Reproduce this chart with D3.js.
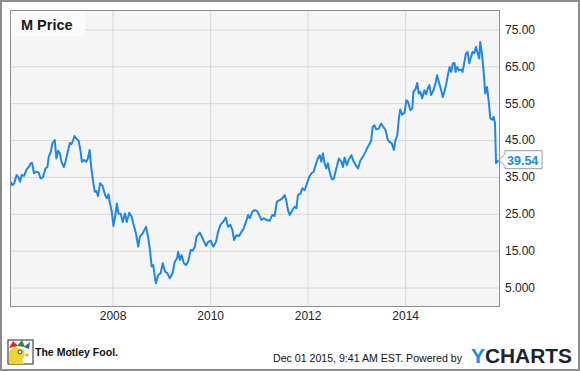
<!DOCTYPE html>
<html>
<head>
<meta charset="utf-8">
<script src="https://cdn.jsdelivr.net/npm/d3@7"></script>
<style>
  body { margin: 0; background: #fff; }
  svg { display: block; font-family: "Liberation Sans", Arial, sans-serif; }
</style>
</head>
<body>
<script>
// M (Macy's) share price
var dates = [
  "2005-12-01","2005-12-10","2005-12-25","2006-01-12","2006-01-24","2006-02-07","2006-02-19","2006-03-09",
  "2006-03-26","2006-04-13","2006-04-28","2006-05-08","2006-05-22","2006-06-09","2006-06-26","2006-07-11",
  "2006-07-28","2006-08-16","2006-08-31","2006-09-10","2006-09-25","2006-10-07","2006-10-25","2006-11-06",
  "2006-11-19","2006-12-02","2006-12-14","2007-01-01","2007-01-13","2007-01-28","2007-02-15","2007-02-27",
  "2007-03-10","2007-03-22","2007-04-04","2007-04-22","2007-05-07","2007-05-16","2007-06-01","2007-06-18",
  "2007-06-30","2007-07-13","2007-07-25","2007-08-07","2007-08-20","2007-09-01","2007-09-14","2007-09-29",
  "2007-10-19","2007-11-06","2007-11-19","2007-12-01","2007-12-13","2007-12-26","2008-01-07","2008-01-20",
  "2008-02-02","2008-02-14","2008-03-02","2008-03-17","2008-04-03","2008-04-16","2008-05-05","2008-05-23",
  "2008-06-04","2008-06-24","2008-07-11","2008-07-24","2008-08-13","2008-09-08","2008-09-25","2008-10-07",
  "2008-10-20","2008-11-01","2008-11-14","2008-11-21","2008-12-08","2008-12-26","2009-01-11","2009-01-28",
  "2009-02-14","2009-03-05","2009-03-25","2009-04-11","2009-04-28","2009-05-06","2009-05-19","2009-06-01",
  "2009-06-18","2009-07-03","2009-07-20","2009-08-08","2009-08-22","2009-09-09","2009-09-21","2009-10-16",
  "2009-11-06","2009-12-01","2009-12-18","2010-01-05","2010-01-24","2010-02-14","2010-03-01","2010-03-19",
  "2010-04-08","2010-04-28","2010-05-15","2010-06-02","2010-06-17","2010-06-29","2010-07-17","2010-08-06",
  "2010-08-24","2010-09-10","2010-10-01","2010-10-12","2010-10-25","2010-11-14","2010-12-01","2010-12-18",
  "2011-01-03","2011-01-21","2011-02-08","2011-02-28","2011-03-22","2011-04-12","2011-04-29","2011-05-16",
  "2011-06-06","2011-06-26","2011-07-13","2011-07-25","2011-08-07","2011-08-20","2011-09-09","2011-09-26",
  "2011-10-09","2011-10-21","2011-11-08","2011-11-23","2011-12-10","2011-12-23","2012-01-12","2012-01-30",
  "2012-02-16","2012-03-01","2012-03-18","2012-04-01","2012-04-13","2012-04-25","2012-05-07","2012-05-20",
  "2012-06-01","2012-06-14","2012-07-01","2012-07-16","2012-08-03","2012-08-22","2012-09-10","2012-09-22",
  "2012-10-04","2012-10-21","2012-11-06","2012-11-24","2012-12-06","2012-12-26","2013-01-13","2013-02-01",
  "2013-02-19","2013-03-10","2013-03-27","2013-04-09","2013-04-22","2013-05-03","2013-05-16","2013-05-29",
  "2013-06-17","2013-07-05","2013-07-17","2013-08-07","2013-08-24","2013-09-06","2013-09-23","2013-10-08",
  "2013-10-21","2013-11-03","2013-11-15","2013-11-25","2013-12-09","2013-12-27","2014-01-10","2014-01-22",
  "2014-02-09","2014-02-24","2014-03-04","2014-03-19","2014-04-01","2014-04-13","2014-04-25","2014-05-08",
  "2014-05-25","2014-06-07","2014-06-19","2014-07-01","2014-07-14","2014-08-01","2014-08-16","2014-08-28",
  "2014-09-10","2014-09-28","2014-10-10","2014-10-22","2014-11-05","2014-11-17","2014-11-30","2014-12-12",
  "2014-12-24","2015-01-06","2015-01-13","2015-01-26","2015-02-07","2015-02-25","2015-03-07","2015-03-19",
  "2015-04-01","2015-04-14","2015-04-26","2015-05-09","2015-05-21","2015-06-03","2015-06-16","2015-06-28",
  "2015-07-10","2015-07-17","2015-07-30","2015-08-11","2015-08-24","2015-09-06","2015-09-18","2015-10-01",
  "2015-10-14","2015-10-26","2015-11-05","2015-11-13","2015-11-20","2015-12-01"
];
var prices = [
  33.7,32.8,33.2,35.5,35.0,33.7,35.5,35.3,
  36.9,37.7,38.7,38.8,36.0,36.4,36.2,34.6,
  34.9,37.3,37.7,40.5,41.8,44.1,45.0,40.0,
  42.1,41.4,39.1,37.7,39.1,41.4,44.2,43.9,
  44.8,46.1,45.4,44.8,41.8,39.1,39.6,39.1,
  40.0,42.3,37.7,34.1,31.0,31.2,29.8,33.3,
  32.5,30.1,29.2,30.3,27.8,25.6,21.7,24.2,
  27.8,25.1,25.0,22.8,25.1,22.8,25.3,24.2,
  22.4,19.7,16.1,18.8,19.7,21.5,18.3,15.2,
  10.7,11.1,7.5,6.2,8.4,8.9,11.6,9.3,
  8.9,7.5,8.9,12.0,12.9,14.7,12.5,13.8,
  11.6,11.1,12.0,15.2,15.0,16.1,18.8,19.9,
  18.3,16.3,17.4,17.7,16.1,17.4,20.1,22.0,
  22.8,24.0,21.5,22.0,20.6,17.9,19.2,19.0,
  20.1,21.1,23.3,24.7,23.8,25.6,26.0,25.8,
  24.7,23.3,23.8,23.3,23.1,24.7,24.4,28.3,
  28.7,29.2,30.1,28.7,26.0,24.7,26.0,26.9,
  26.5,30.1,30.5,31.9,31.4,32.8,34.9,36.0,
  36.4,38.2,40.0,40.9,39.1,41.4,38.7,37.3,
  38.7,36.4,34.3,34.6,37.3,40.0,39.1,37.7,
  40.3,38.2,39.8,40.9,39.6,38.2,37.3,39.6,
  40.5,41.8,43.2,43.9,45.0,48.6,49.0,47.9,
  48.1,49.5,48.8,47.7,45.0,44.5,44.1,42.3,
  45.0,46.3,50.9,53.3,51.9,52.4,55.8,55.4,
  53.1,53.6,58.1,58.7,60.5,57.6,58.1,56.3,
  58.5,57.4,59.0,59.9,57.2,58.5,60.3,62.6,
  60.8,58.5,56.7,58.1,60.3,62.6,64.8,63.5,
  65.8,65.9,63.5,64.8,63.9,64.1,63.5,65.8,
  68.5,68.9,65.8,67.5,68.9,68.6,70.3,68.5,
  67.1,71.6,68.5,63.9,57.6,59.4,55.8,50.9,
  50.5,51.3,49.5,38.7,39.1,39.54
];
var yTicks = [5, 15, 25, 35, 45, 55, 65, 75];
var xTickYears = ["2008", "2010", "2012", "2014"];
var seriesName = "M Price";
var lastLabel = "39.54";

var W = 580, H = 371;
var plot = {left: 11, right: 499, top: 11, bottom: 306};
var lineColor = "#1f88e5";

var parse = d3.timeParse("%Y-%m-%d");
var data = dates.map(function(d, i) { return {date: parse(d), price: prices[i]}; });

var svg = d3.select("body").append("svg")
    .attr("width", W)
    .attr("height", H);

// outer frame
svg.append("rect")
    .attr("x", 1).attr("y", 1)
    .attr("width", W - 2).attr("height", H - 2)
    .attr("fill", "#fff")
    .attr("stroke", "#8c8c8c")
    .attr("stroke-width", 2);

var x = d3.scaleTime()
    .domain([parse("2005-12-01"), parse("2015-12-05")])
    .range([plot.left, plot.right]);

var y = d3.scaleLinear()
    .domain([0, 80])
    .range([plot.bottom, plot.top]);

// plot background
svg.append("rect")
    .attr("x", plot.left - 0.5).attr("y", plot.top - 0.5)
    .attr("width", plot.right - plot.left + 1)
    .attr("height", plot.bottom - plot.top + 1)
    .attr("fill", "#f5f5f5");

// gridlines
var xTicks = xTickYears.map(function(s) { return parse(s + "-01-01"); });

svg.append("g")
    .attr("transform", "translate(" + plot.left + ",0)")
    .call(d3.axisLeft(y).tickValues(yTicks).tickSize(-(plot.right - plot.left)).tickFormat(""))
    .call(function(g) { g.select(".domain").remove(); })
    .selectAll("line").attr("stroke", "#d8d8d8");

svg.append("g")
    .attr("transform", "translate(0," + plot.top + ")")
    .call(d3.axisBottom(x).tickValues(xTicks).tickSize(plot.bottom - plot.top).tickFormat(""))
    .call(function(g) { g.select(".domain").remove(); })
    .selectAll("line").attr("stroke", "#d8d8d8");

// legend box
svg.append("rect")
    .attr("x", plot.left).attr("y", plot.top)
    .attr("width", 74).attr("height", 25)
    .attr("fill", "#fbfbfb");
svg.append("text")
    .attr("x", 21).attr("y", 29.5)
    .attr("font-size", 14.5)
    .attr("font-weight", "bold")
    .attr("fill", "#1a1a1a")
    .text(seriesName);

// price line
var line = d3.line()
    .x(function(d) { return x(d.date); })
    .y(function(d) { return y(d.price); });

svg.append("path")
    .datum(data)
    .attr("d", line)
    .attr("fill", "none")
    .attr("stroke", lineColor)
    .attr("stroke-width", 2)
    .attr("stroke-linejoin", "round");

// plot border
svg.append("rect")
    .attr("x", plot.left - 0.5).attr("y", plot.top - 0.5)
    .attr("width", plot.right - plot.left + 1)
    .attr("height", plot.bottom - plot.top + 1)
    .attr("fill", "none")
    .attr("stroke", "#8f8f8f")
    .attr("stroke-width", 1);

// axes labels
var yAxis = svg.append("g")
    .attr("transform", "translate(" + plot.right + ",0)")
    .call(d3.axisRight(y).tickValues(yTicks).tickSize(0).tickPadding(6).tickFormat(d3.format(".4r")));
yAxis.select(".domain").remove();
yAxis.selectAll("text")
    .attr("font-family", "Liberation Sans, Arial, sans-serif")
    .attr("font-size", 12)
    .attr("fill", "#222");

var xAxis = svg.append("g")
    .attr("transform", "translate(0," + plot.bottom + ")")
    .call(d3.axisBottom(x).tickValues(xTicks).tickSize(0).tickPadding(5).tickFormat(d3.timeFormat("%Y")));
xAxis.select(".domain").remove();
xAxis.selectAll("text")
    .attr("font-family", "Liberation Sans, Arial, sans-serif")
    .attr("font-size", 12)
    .attr("fill", "#222");

// last value marker
var last = data[data.length - 1];
var ly = y(last.price);
var tipX = plot.right;
svg.append("path")
    .attr("d", "M" + tipX + "," + ly +
        "L" + (tipX + 6) + "," + (ly - 6) +
        "V" + (ly - 9.5) + "H" + 542 + "V" + (ly + 8.5) +
        "H" + (tipX + 6) + "V" + (ly + 6) + "Z")
    .attr("fill", "#fff")
    .attr("stroke", "#9a9a9a")
    .attr("stroke-width", 1);
svg.append("text")
    .attr("x", tipX + 8).attr("y", ly)
    .attr("dy", "0.36em")
    .attr("font-size", 12.5)
    .attr("font-weight", "bold")
    .attr("fill", lineColor)
    .text(lastLabel);

// footer: Motley Fool logo (simplified jester)
var logo = svg.append("g").attr("transform", "translate(8,340)");
logo.append("rect").attr("x", 0).attr("y", 0).attr("width", 25).attr("height", 24)
    .attr("fill", "#fff").attr("stroke", "#222").attr("stroke-width", 1);
logo.append("path").attr("d", "M1,24 L1,12 Q4,6 10,8 L16,10 Q18,16 14,20 L16,24 Z").attr("fill", "#f2d22e");
logo.append("path").attr("d", "M1,8 L5,1 L10,6 Z").attr("fill", "#d8262d");
logo.append("path").attr("d", "M9,6 L14,0 L17,7 Z").attr("fill", "#2a8a3a");
logo.append("path").attr("d", "M16,7 L22,2 L21,9 Z").attr("fill", "#2b5fb8");
logo.append("circle").attr("cx", 12).attr("cy", 12).attr("r", 2).attr("fill", "#fff").attr("stroke", "#222").attr("stroke-width", 0.8);
logo.append("circle").attr("cx", 19).attr("cy", 15).attr("r", 1.6).attr("fill", "#e5a53a");
svg.append("text")
    .attr("x", 35).attr("y", 355.5)
    .attr("font-size", 11.5)
    .attr("font-weight", "bold")
    .attr("fill", "#111")
    .attr("textLength", 83)
    .attr("lengthAdjust", "spacingAndGlyphs")
    .text("The Motley Fool.");

svg.append("text")
    .attr("x", 273).attr("y", 362)
    .attr("font-size", 11)
    .attr("fill", "#111")
    .attr("textLength", 189)
    .attr("lengthAdjust", "spacingAndGlyphs")
    .text("Dec 01 2015, 9:41 AM EST.  Powered by");

var yc = svg.append("text")
    .attr("x", 471).attr("y", 362.5)
    .attr("font-size", 20)
    .attr("font-weight", "bold")
    .attr("textLength", 101)
    .attr("lengthAdjust", "spacingAndGlyphs");
yc.append("tspan").attr("fill", "#1a8ae5").text("Y");
yc.append("tspan").attr("fill", "#1b2430").text("CHARTS");
</script>
</body>
</html>
